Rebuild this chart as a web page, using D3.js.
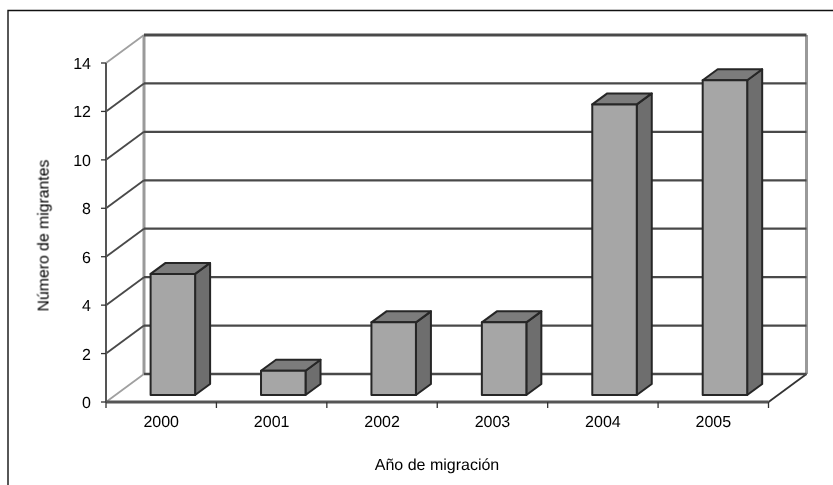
<!DOCTYPE html>
<html><head><meta charset="utf-8">
<script src="https://cdn.jsdelivr.net/npm/d3@7/dist/d3.min.js"></script>
<style>html,body{margin:0;padding:0;background:#fff}svg{display:block}text{font-family:"Liberation Sans",Arial,sans-serif;fill:#000;text-rendering:geometricPrecision}</style>
</head><body><svg id="c" width="833" height="485"></svg>
<script>
const categories = ["2000","2001","2002","2003","2004","2005"];
const values = [5,1,3,3,12,13];
const yTicks = [0,2,4,6,8,10,12,14];
const xTitle = "Año de migración";
const yTitle = "Número de migrantes";

const svg = d3.select("#c");
const defs = svg.append("defs");
defs.append("filter").attr("id","soft").attr("x","-5%").attr("y","-5%").attr("width","110%").attr("height","110%")
  .append("feGaussianBlur").attr("stdDeviation",0.6);
defs.append("filter").attr("id","softText").attr("x","-5%").attr("y","-5%").attr("width","110%").attr("height","110%")
  .append("feGaussianBlur").attr("stdDeviation",0.2);

const W=833,H=485;
svg.append("path").attr("d",`M8,${H} V10.5 H${W}`).attr("fill","none").attr("stroke","#111").attr("stroke-width",1.4);

const dx=38, dy=-28;
const x=d3.scaleBand().domain(categories).range([106,768.5]);
const y=d3.scaleLinear().domain([0,14]).range([402,63]);
const g=svg.append("g").attr("filter","url(#soft)");

// floor and walls
g.append("line").attr("x1",x.range()[0]).attr("y1",y(0)).attr("x2",x.range()[0]+dx).attr("y2",y(0)+dy).attr("stroke","#a0a0a0").attr("stroke-width",1.8);
g.append("line").attr("x1",x.range()[0]).attr("y1",y(14)).attr("x2",x.range()[0]+dx).attr("y2",y(14)+dy).attr("stroke","#a0a0a0").attr("stroke-width",1.8);
g.append("line").attr("x1",106+dx).attr("y1",y(0)+dy).attr("x2",106+dx).attr("y2",y(14)+dy).attr("stroke","#9a9a9a").attr("stroke-width",3);
g.append("line").attr("x1",768.5+dx).attr("y1",y(0)+dy).attr("x2",768.5+dx).attr("y2",y(14)+dy).attr("stroke","#9a9a9a").attr("stroke-width",3);
g.append("line").attr("x1",768.5).attr("y1",y(0)).attr("x2",768.5+dx).attr("y2",y(0)+dy).attr("stroke","#333").attr("stroke-width",1.8);

// gridlines
yTicks.forEach(t=>{
  g.append("line").attr("x1",106+dx).attr("x2",768.5+dx).attr("y1",y(t)+dy).attr("y2",y(t)+dy).attr("stroke","#4a4a4a").attr("stroke-width",t===14?2.8:2.3);
  if(t>0&&t<14) g.append("line").attr("x1",106).attr("y1",y(t)).attr("x2",106+dx).attr("y2",y(t)+dy).attr("stroke","#4a4a4a").attr("stroke-width",1.9);
});

// axes
g.append("line").attr("x1",106).attr("x2",106).attr("y1",y(0)).attr("y2",y(14)).attr("stroke","#555").attr("stroke-width",2);
g.append("line").attr("x1",106).attr("x2",768.5).attr("y1",y(0)).attr("y2",y(0)).attr("stroke","#555").attr("stroke-width",2.8);
yTicks.forEach(t=>g.append("line").attr("x1",101).attr("x2",106).attr("y1",y(t)).attr("y2",y(t)).attr("stroke","#333").attr("stroke-width",1.3));
[...categories.map(c=>x(c)),768.5].forEach(v=>g.append("line").attr("x1",v).attr("x2",v).attr("y1",y(0)).attr("y2",y(0)+6).attr("stroke","#333").attr("stroke-width",1.3));

// bars
const base=395, bw=44.5, bd=15, bh=-11;
const h=v=>y(0)-y(v);
categories.forEach((c,i)=>{
  const x0=x(c)+44.6, x1=x0+bw, top=base-h(values[i]);
  const bar=g.append("g").attr("stroke","#262626").attr("stroke-width",2).attr("stroke-linejoin","round");
  bar.append("path").attr("fill","#6e6e6e").attr("d",`M${x1},${base} L${x1+bd},${base+bh} V${top+bh} L${x1},${top} Z`);
  bar.append("path").attr("fill","#7b7b7b").attr("d",`M${x0},${top} L${x0+bd},${top+bh} H${x1+bd} L${x1},${top} Z`);
  bar.append("rect").attr("x",x0).attr("y",top).attr("width",bw).attr("height",base-top).attr("fill","#a6a6a6");
});

// labels
const t=svg.append("g").attr("filter","url(#softText)");
t.selectAll(".yl").data(yTicks).join("text").attr("x",91).attr("y",d=>y(d)+6).attr("text-anchor","end").attr("font-size",16).text(d=>d);
t.selectAll(".xl").data(categories).join("text").attr("x",d=>x(d)+x.bandwidth()/2).attr("y",427).attr("text-anchor","middle").attr("font-size",16).text(d=>d);
t.append("text").attr("x",437).attr("y",470).attr("text-anchor","middle").attr("font-size",16).text(xTitle);
t.append("text").attr("transform","translate(48.5,235.5) rotate(-90)").attr("text-anchor","middle").attr("font-size",15.8).text(yTitle);
</script></body></html>
